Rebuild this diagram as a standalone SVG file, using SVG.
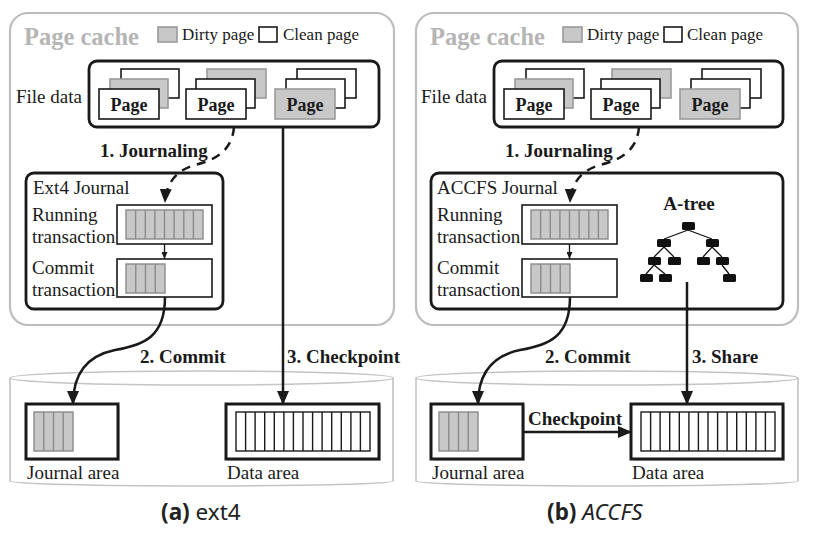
<svg xmlns="http://www.w3.org/2000/svg" width="818" height="540" viewBox="0 0 818 540">
<defs>
<style>
.cache{fill:#fff;stroke:#bdbdbd;stroke-width:2.2}
.title{font-family:"Liberation Serif",serif;font-weight:bold;font-size:24.5px;fill:#b5b5b5}
.t{font-family:"Liberation Serif",serif;font-size:19px;fill:#1a1a1a}
.tl{font-family:"Liberation Serif",serif;font-size:17px;fill:#1a1a1a}
.b{font-family:"Liberation Serif",serif;font-weight:bold;font-size:19px;fill:#1a1a1a}
.pg{font-family:"Liberation Serif",serif;font-weight:bold;font-size:18px;fill:#1a1a1a;text-anchor:middle}
.box{fill:#fff;stroke:#1a1a1a;stroke-width:2.8}
.tbox{fill:#fff;stroke:#1a1a1a;stroke-width:1.6}
.cp{fill:#fff;stroke:#1a1a1a;stroke-width:1.6}
.dp{fill:#c8c8c8;stroke:#9a9a9a;stroke-width:1.6}
.cell{fill:#c8c8c8;stroke:#8a8a8a;stroke-width:1.4}
.dcell{fill:#fff;stroke:#1a1a1a;stroke-width:1.4}
.area{fill:#fff;stroke:#1a1a1a;stroke-width:3}
.shadow{fill:#bbb;opacity:0.6}
.disk{fill:#fff;stroke:#c4c4c4;stroke-width:1.6}
.ln{fill:none;stroke:#1a1a1a;stroke-width:2.5}
.dash{fill:none;stroke:#1a1a1a;stroke-width:2.5;stroke-dasharray:9 7}
.tn{fill:#111}
.te{stroke:#111;stroke-width:1.3}
.cap{font-family:"Noto Sans","DejaVu Sans",sans-serif;font-size:22.5px;fill:#222}
</style>
<marker id="ah" markerUnits="userSpaceOnUse" markerWidth="14" markerHeight="12" refX="13" refY="6" orient="auto">
<path d="M0,0 L14,6 L0,12 Z" fill="#1a1a1a"/>
</marker>
<marker id="ahs" markerUnits="userSpaceOnUse" markerWidth="7" markerHeight="6" refX="7" refY="3" orient="auto">
<path d="M0,0 L7,3 L0,6 Z" fill="#1a1a1a"/>
</marker>
</defs>
<rect width="818" height="540" fill="#fff"/>

<!-- ================= LEFT PANEL (a) ================= -->
<g id="pagecache-a">
<rect class="cache" x="10" y="13" width="384" height="312" rx="18"/>
<text class="title" x="24" y="45">Page cache</text>
<rect class="dp" x="158" y="27" width="19" height="15"/>
<text class="tl" x="182" y="40">Dirty page</text>
<rect class="cp" x="259" y="27" width="18" height="15"/>
<text class="tl" x="283" y="40">Clean page</text>
</g>

<g id="filedata-a">
<text class="t" x="16" y="103">File data</text>
<rect class="box" x="89" y="61" width="290" height="66" rx="8"/>
<rect class="cp" x="121" y="69" width="58" height="29"/>
<rect class="dp" x="110" y="79" width="58" height="29"/>
<rect class="cp" x="99" y="89" width="60" height="30"/>
<text class="pg" x="129" y="111">Page</text>
<rect class="dp" x="207" y="69" width="59" height="29"/>
<rect class="cp" x="196" y="79" width="59" height="29"/>
<rect class="cp" x="186" y="89" width="60" height="30"/>
<text class="pg" x="216" y="111">Page</text>
<rect class="cp" x="297" y="69" width="59" height="29"/>
<rect class="cp" x="286" y="79" width="59" height="29"/>
<rect class="dp" x="275" y="89" width="60" height="30"/>
<text class="pg" x="305" y="111">Page</text>
</g>

<g id="journal-a">
<rect class="box" x="26" y="173" width="197" height="136" rx="8"/>
<text class="t" x="33" y="194">Ext4 Journal</text>
<text class="t" x="32" y="221">Running</text>
<text class="t" x="32" y="243">transaction</text>
<rect class="tbox" x="117" y="205" width="95" height="39"/>
<rect class="cell" x="126" y="210" width="77" height="29"/>
<path class="cell" d="M135.6,210V239M145.3,210V239M154.9,210V239M164.5,210V239M174.1,210V239M183.8,210V239M193.4,210V239"/>
<text class="t" x="32" y="274">Commit</text>
<text class="t" x="32" y="296">transaction</text>
<rect class="tbox" x="117" y="259" width="95" height="38"/>
<rect class="cell" x="126" y="264" width="39" height="29"/>
<path class="cell" d="M135.75,264V293M145.5,264V293M155.25,264V293"/>
</g>

<g id="disk-a">
<path class="disk" d="M10,378 V481 A191.5 5 0 0 0 393,481 V378"/>
<ellipse class="disk" cx="201.5" cy="378" rx="191.5" ry="7"/>
<rect class="shadow" x="28" y="406" width="92" height="55"/>
<rect class="area" x="26" y="404" width="92" height="55"/>
<rect class="cell" x="34" y="412" width="39" height="39"/>
<path class="cell" d="M43.75,412V451M53.5,412V451M63.25,412V451"/>
<text class="t" x="27" y="479">Journal area</text>
<rect class="shadow" x="228" y="406" width="153" height="55"/>
<rect class="area" x="226" y="404" width="153" height="55"/>
<rect class="dcell" x="236" y="412" width="134" height="39"/>
<path class="dcell" d="M245.6,412V451M255.1,412V451M264.7,412V451M274.3,412V451M283.9,412V451M293.4,412V451M303,412V451M312.6,412V451M322.1,412V451M331.7,412V451M341.3,412V451M350.9,412V451M360.4,412V451"/>
<text class="t" x="227" y="479">Data area</text>
</g>

<g id="connectors-a">
<path class="dash" d="M234,127 C232,152 214,160 195,165 C176,170 166,184 165,202" marker-end="url(#ah)"/>
<text class="b" x="100" y="157">1. Journaling</text>
<path class="te" d="M164.5,244 V259" marker-end="url(#ahs)"/>
<path class="ln" d="M165,297 C165,336 145,345 115,350 C86,356 73,375 73,404" marker-end="url(#ah)"/>
<text class="b" x="140" y="363">2. Commit</text>
<path class="ln" d="M283,127 V404" marker-end="url(#ah)"/>
<text class="b" x="287" y="363">3. Checkpoint</text>
</g>

<text class="cap" x="161" y="520"><tspan font-weight="bold">(a)</tspan> ext4</text>

<!-- ================= RIGHT PANEL (b) ================= -->
<g id="pagecache-b">
<rect class="cache" x="416" y="13" width="382" height="312" rx="18"/>
<text class="title" x="430" y="45">Page cache</text>
<rect class="dp" x="563" y="27" width="19" height="15"/>
<text class="tl" x="587" y="40">Dirty page</text>
<rect class="cp" x="664" y="27" width="18" height="15"/>
<text class="tl" x="687" y="40">Clean page</text>
</g>

<g id="filedata-b">
<text class="t" x="421" y="103">File data</text>
<rect class="box" x="494" y="61" width="289" height="66" rx="8"/>
<rect class="cp" x="526" y="69" width="58" height="29"/>
<rect class="dp" x="515" y="79" width="58" height="29"/>
<rect class="cp" x="504" y="89" width="60" height="30"/>
<text class="pg" x="534" y="111">Page</text>
<rect class="dp" x="612" y="69" width="59" height="29"/>
<rect class="cp" x="601" y="79" width="59" height="29"/>
<rect class="cp" x="591" y="89" width="60" height="30"/>
<text class="pg" x="621" y="111">Page</text>
<rect class="cp" x="702" y="69" width="59" height="29"/>
<rect class="cp" x="691" y="79" width="59" height="29"/>
<rect class="dp" x="680" y="89" width="60" height="30"/>
<text class="pg" x="710" y="111">Page</text>
</g>

<g id="journal-b">
<rect class="box" x="431" y="173" width="352" height="136" rx="8"/>
<text class="t" x="437" y="194">ACCFS Journal</text>
<text class="t" x="437" y="221">Running</text>
<text class="t" x="437" y="243">transaction</text>
<rect class="tbox" x="522" y="205" width="95" height="39"/>
<rect class="cell" x="531" y="210" width="77" height="29"/>
<path class="cell" d="M540.6,210V239M550.3,210V239M559.9,210V239M569.5,210V239M579.1,210V239M588.8,210V239M598.4,210V239"/>
<text class="t" x="437" y="274">Commit</text>
<text class="t" x="437" y="296">transaction</text>
<rect class="tbox" x="522" y="259" width="95" height="38"/>
<rect class="cell" x="531" y="264" width="39" height="29"/>
<path class="cell" d="M540.75,264V293M550.5,264V293M560.25,264V293"/>
</g>

<g id="atree">
<text class="b" x="689" y="210" text-anchor="middle" font-size="17">A-tree</text>
<path class="te" d="M688,230 L664,239 M688,230 L712,239 M664,247 L654,257 M664,247 L674,257 M712,247 L703,257 M712,247 L722,257 M654,265 L646,274 M654,265 L665,274 M722,265 L729,274"/>
<rect class="tn" x="682" y="222" width="13" height="8" rx="1.5"/>
<rect class="tn" x="657" y="239" width="14" height="8" rx="1.5"/>
<rect class="tn" x="706" y="239" width="13" height="8" rx="1.5"/>
<rect class="tn" x="648" y="257" width="13" height="8" rx="1.5"/>
<rect class="tn" x="668" y="257" width="13" height="8" rx="1.5"/>
<rect class="tn" x="697" y="257" width="13" height="8" rx="1.5"/>
<rect class="tn" x="716" y="257" width="13" height="8" rx="1.5"/>
<rect class="tn" x="640" y="274" width="13" height="8" rx="1.5"/>
<rect class="tn" x="659" y="274" width="13" height="8" rx="1.5"/>
<rect class="tn" x="723" y="274" width="13" height="8" rx="1.5"/>
</g>

<g id="disk-b">
<path class="disk" d="M416,378 V481 A191 5 0 0 0 798,481 V378"/>
<ellipse class="disk" cx="607" cy="378" rx="191" ry="7"/>
<rect class="shadow" x="433" y="406" width="92" height="55"/>
<rect class="area" x="431" y="404" width="92" height="55"/>
<rect class="cell" x="439" y="412" width="39" height="39"/>
<path class="cell" d="M448.75,412V451M458.5,412V451M468.25,412V451"/>
<text class="t" x="432" y="479">Journal area</text>
<rect class="shadow" x="633" y="406" width="152" height="55"/>
<rect class="area" x="631" y="404" width="152" height="55"/>
<rect class="dcell" x="641" y="412" width="134" height="39"/>
<path class="dcell" d="M650.6,412V451M660.1,412V451M669.7,412V451M679.3,412V451M688.9,412V451M698.4,412V451M708,412V451M717.6,412V451M727.1,412V451M736.7,412V451M746.3,412V451M755.9,412V451M765.4,412V451"/>
<text class="t" x="632" y="479">Data area</text>
</g>

<g id="connectors-b">
<path class="dash" d="M639,127 C637,152 619,160 600,165 C581,170 571,184 570,202" marker-end="url(#ah)"/>
<text class="b" x="505" y="157">1. Journaling</text>
<path class="te" d="M569.5,244 V259" marker-end="url(#ahs)"/>
<path class="ln" d="M570,297 C570,336 550,345 520,350 C491,356 478,375 478,404" marker-end="url(#ah)"/>
<text class="b" x="545" y="363">2. Commit</text>
<path class="ln" d="M687,282 V404" marker-end="url(#ah)"/>
<text class="b" x="692" y="363">3. Share</text>
<path class="ln" d="M523,432 H631" marker-end="url(#ah)"/>
<text class="b" x="528" y="425">Checkpoint</text>
</g>

<text class="cap" x="547" y="520"><tspan font-weight="bold">(b)</tspan> <tspan font-style="italic">ACCFS</tspan></text>
</svg>
